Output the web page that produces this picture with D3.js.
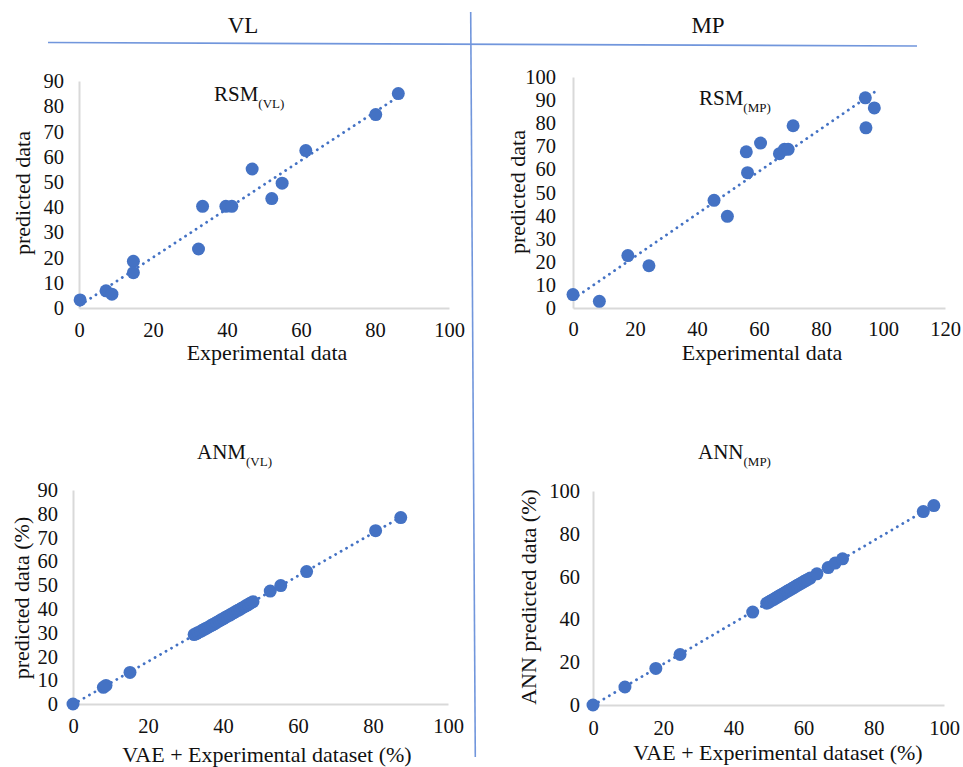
<!DOCTYPE html>
<html>
<head>
<meta charset="utf-8">
<script src="https://cdn.jsdelivr.net/npm/d3@7"></script>
<style>
  html, body { margin: 0; padding: 0; background: #fff; }
  svg { display: block; }
  svg text { font-family: "Liberation Serif", "Times New Roman", serif !important; }
</style>
</head>
<body>
<svg id="chart" width="963" height="767"></svg>
<script>
// ---- Data ----------------------------------------------------------------
// RSM model, VL response
const rsmVlExperimental = [0.3, 7.3, 8.9, 14.7, 14.7, 32.3, 33.4, 39.7, 41.3, 46.8, 52.1, 54.9, 61.3, 80.2, 86.3];
const rsmVlPredicted    = [3.2, 6.8, 5.5, 18.5, 14.0, 23.4, 40.3, 40.3, 40.3, 55.1, 43.4, 49.5, 62.4, 76.7, 85.0];

// RSM model, MP response
const rsmMpExperimental = [0, 8.5, 17.7, 24.5, 45.5, 49.8, 55.9, 56.3, 60.5, 66.6, 68.2, 69.4, 71.0, 94.3, 94.5, 97.2];
const rsmMpPredicted    = [5.8, 2.9, 22.7, 18.3, 46.6, 39.7, 67.6, 58.6, 71.4, 66.8, 68.7, 68.7, 78.9, 91.0, 78.0, 86.6];

// ANN model, VL response (VAE-augmented dataset)
const annVlDataset = [0, 8.1, 8.8, 15.2,
  32.3, 32.9, 33.4, 34.0, 34.5, 35.1, 35.6, 36.2, 36.8, 37.3, 37.9, 38.4, 39.0, 39.5, 40.1,
  40.7, 41.2, 41.8, 42.3, 42.9, 43.4, 44.0, 44.6, 45.1, 45.7, 46.2, 46.8, 47.4, 48.0,
  52.6, 55.4, 62.3, 80.7, 87.4];
const annVlPredicted = [0, 7.0, 7.8, 13.3,
  29.2, 29.6, 30.1, 30.5, 31.0, 31.5, 31.9, 32.4, 33.0, 33.4, 33.9, 34.4, 34.9, 35.4, 35.9,
  36.5, 36.9, 37.4, 37.9, 38.4, 38.9, 39.4, 39.9, 40.4, 40.9, 41.4, 41.9, 42.5, 43.0,
  47.5, 49.8, 55.7, 72.9, 78.4];

// ANN model, MP response (VAE-augmented dataset)
const annMpDataset = [0, 9.1, 17.9, 24.8, 45.5,
  49.5, 50.0, 50.5, 51.0, 51.5, 52.0, 52.4, 52.9, 53.4, 53.9, 54.4, 54.9, 55.3,
  55.8, 56.3, 56.8, 57.3, 57.8, 58.2, 58.7, 59.2, 59.7, 60.2, 60.7, 61.2, 61.9,
  63.8, 67.0, 69.0, 71.1, 94.1, 97.1];
const annMpPredicted = [0, 8.4, 17.1, 23.6, 43.4,
  47.6, 48.0, 48.5, 49.0, 49.4, 49.9, 50.3, 50.8, 51.3, 51.7, 52.2, 52.7, 53.1,
  53.6, 54.0, 54.5, 55.0, 55.5, 55.9, 56.3, 56.8, 57.3, 57.8, 58.2, 58.7, 59.3,
  61.3, 64.2, 66.3, 68.3, 90.4, 93.2];

// Axis ticks
const ticks0to100by20 = [0, 20, 40, 60, 80, 100];
const ticks0to120by20 = [0, 20, 40, 60, 80, 100, 120];
const ticks0to90by10  = [0, 10, 20, 30, 40, 50, 60, 70, 80, 90];
const ticks0to100by10 = [0, 10, 20, 30, 40, 50, 60, 70, 80, 90, 100];

// Column headers
const columnHeaders = ["VL", "MP"];

// ---- Drawing -------------------------------------------------------------
const svg = d3.select("#chart");
const BLUE = "#4472c4";
const AXIS = "#d9d9d9";
const INK = "#111";

// Header divider lines
svg.append("line").attr("x1", 48).attr("y1", 42.5).attr("x2", 917).attr("y2", 46)
  .attr("stroke", "#7196dc").attr("stroke-width", 1.6);
svg.append("line").attr("x1", 470.7).attr("y1", 12).attr("x2", 475.3).attr("y2", 757)
  .attr("stroke", "#7196dc").attr("stroke-width", 1.6);

svg.selectAll("text.header").data(columnHeaders).join("text")
  .attr("class", "header")
  .attr("x", (d, i) => [243, 708][i]).attr("y", 33)
  .attr("text-anchor", "middle").attr("font-size", 23).attr("fill", INK)
  .text(d => d);

function linearFit(xs, ys) {
  const n = xs.length;
  const mx = d3.mean(xs), my = d3.mean(ys);
  let sxy = 0, sxx = 0;
  for (let i = 0; i < n; i++) { sxy += (xs[i] - mx) * (ys[i] - my); sxx += (xs[i] - mx) ** 2; }
  const b = sxy / sxx;
  return { slope: b, intercept: my - b * mx };
}

function panel(cfg) {
  const g = svg.append("g");
  const x = d3.scaleLinear().domain(cfg.xDomain).range(cfg.xRange);
  const y = d3.scaleLinear().domain(cfg.yDomain).range(cfg.yRange);

  // axes: plain light-grey lines, no tick marks
  const xAxis = d3.axisBottom(x).tickValues(cfg.xTicks).tickSize(0).tickPadding(cfg.xPad);
  const yAxis = d3.axisLeft(y).tickValues(cfg.yTicks).tickSize(0).tickPadding(cfg.yPad);
  const gx = g.append("g").attr("transform", `translate(0,${y(0)})`).call(xAxis);
  const gy = g.append("g").attr("transform", `translate(${x(0)},0)`).call(yAxis);
  [gx, gy].forEach(a => {
    a.attr("font-family", null).attr("font-size", null);
    a.select(".domain").attr("stroke", AXIS).attr("stroke-width", 2);
    a.selectAll("text").attr("font-size", 20.5).attr("fill", INK);
  });

  // linear trendline across the data range
  const fit = linearFit(cfg.xs, cfg.ys);
  const [x0, x1] = d3.extent(cfg.xs);
  g.append("line")
    .attr("x1", x(x0)).attr("y1", y(fit.intercept + fit.slope * x0))
    .attr("x2", x(x1)).attr("y2", y(fit.intercept + fit.slope * x1))
    .attr("stroke", BLUE).attr("stroke-width", 2.8)
    .attr("stroke-linecap", "round").attr("stroke-dasharray", "0.1,6.2");

  // data points
  g.selectAll("circle").data(cfg.xs.map((v, i) => [v, cfg.ys[i]])).join("circle")
    .attr("cx", d => x(d[0])).attr("cy", d => y(d[1])).attr("r", 6.5)
    .attr("fill", BLUE);

  // panel title with subscript
  const t = g.append("text").attr("x", cfg.titleX).attr("y", cfg.titleY)
    .attr("font-size", 21).attr("fill", INK);
  t.append("tspan").text(cfg.title);
  t.append("tspan").attr("font-size", 13).attr("dy", 7).text(cfg.sub);

  // axis titles
  g.append("text").attr("x", cfg.xLabelX).attr("y", cfg.xLabelY)
    .attr("text-anchor", "middle").attr("font-size", 22).attr("fill", INK)
    .text(cfg.xLabel);
  g.append("text")
    .attr("transform", `translate(${cfg.yLabelX},${cfg.yLabelY}) rotate(-90)`)
    .attr("text-anchor", "middle").attr("font-size", 22).attr("fill", INK)
    .text(cfg.yLabel);
}

panel({
  xs: rsmVlExperimental, ys: rsmVlPredicted,
  xDomain: [0, 100], xRange: [79, 449], yDomain: [0, 90], yRange: [308, 81],
  xTicks: ticks0to100by20, yTicks: ticks0to90by10, xPad: 14, yPad: 15,
  title: "RSM", sub: "(VL)", titleX: 214, titleY: 101,
  xLabel: "Experimental data", xLabelX: 267, xLabelY: 360,
  yLabel: "predicted data", yLabelX: 30, yLabelY: 193
});

panel({
  xs: rsmMpExperimental, ys: rsmMpPredicted,
  xDomain: [0, 120], xRange: [573, 945], yDomain: [0, 100], yRange: [308, 77],
  xTicks: ticks0to120by20, yTicks: ticks0to100by10, xPad: 13.5, yPad: 17,
  title: "RSM", sub: "(MP)", titleX: 699, titleY: 105,
  xLabel: "Experimental data", xLabelX: 762, xLabelY: 360,
  yLabel: "predicted data", yLabelX: 525, yLabelY: 192
});

panel({
  xs: annVlDataset, ys: annVlPredicted,
  xDomain: [0, 100], xRange: [73, 448], yDomain: [0, 90], yRange: [704, 490],
  xTicks: ticks0to100by20, yTicks: ticks0to90by10, xPad: 14, yPad: 15,
  title: "ANM", sub: "(VL)", titleX: 197, titleY: 459,
  xLabel: "VAE + Experimental dataset (%)", xLabelX: 267, xLabelY: 762,
  yLabel: "predicted data (%)", yLabelX: 29, yLabelY: 598
});

panel({
  xs: annMpDataset, ys: annMpPredicted,
  xDomain: [0, 100], xRange: [593, 944], yDomain: [0, 100], yRange: [705, 491],
  xTicks: ticks0to100by20, yTicks: [0, 20, 40, 60, 80, 100], xPad: 15, yPad: 13,
  title: "ANN", sub: "(MP)", titleX: 698, titleY: 459,
  xLabel: "VAE + Experimental dataset (%)", xLabelX: 778, xLabelY: 760,
  yLabel: "ANN predicted data (%)", yLabelX: 536, yLabelY: 597
});
</script>
</body>
</html>
